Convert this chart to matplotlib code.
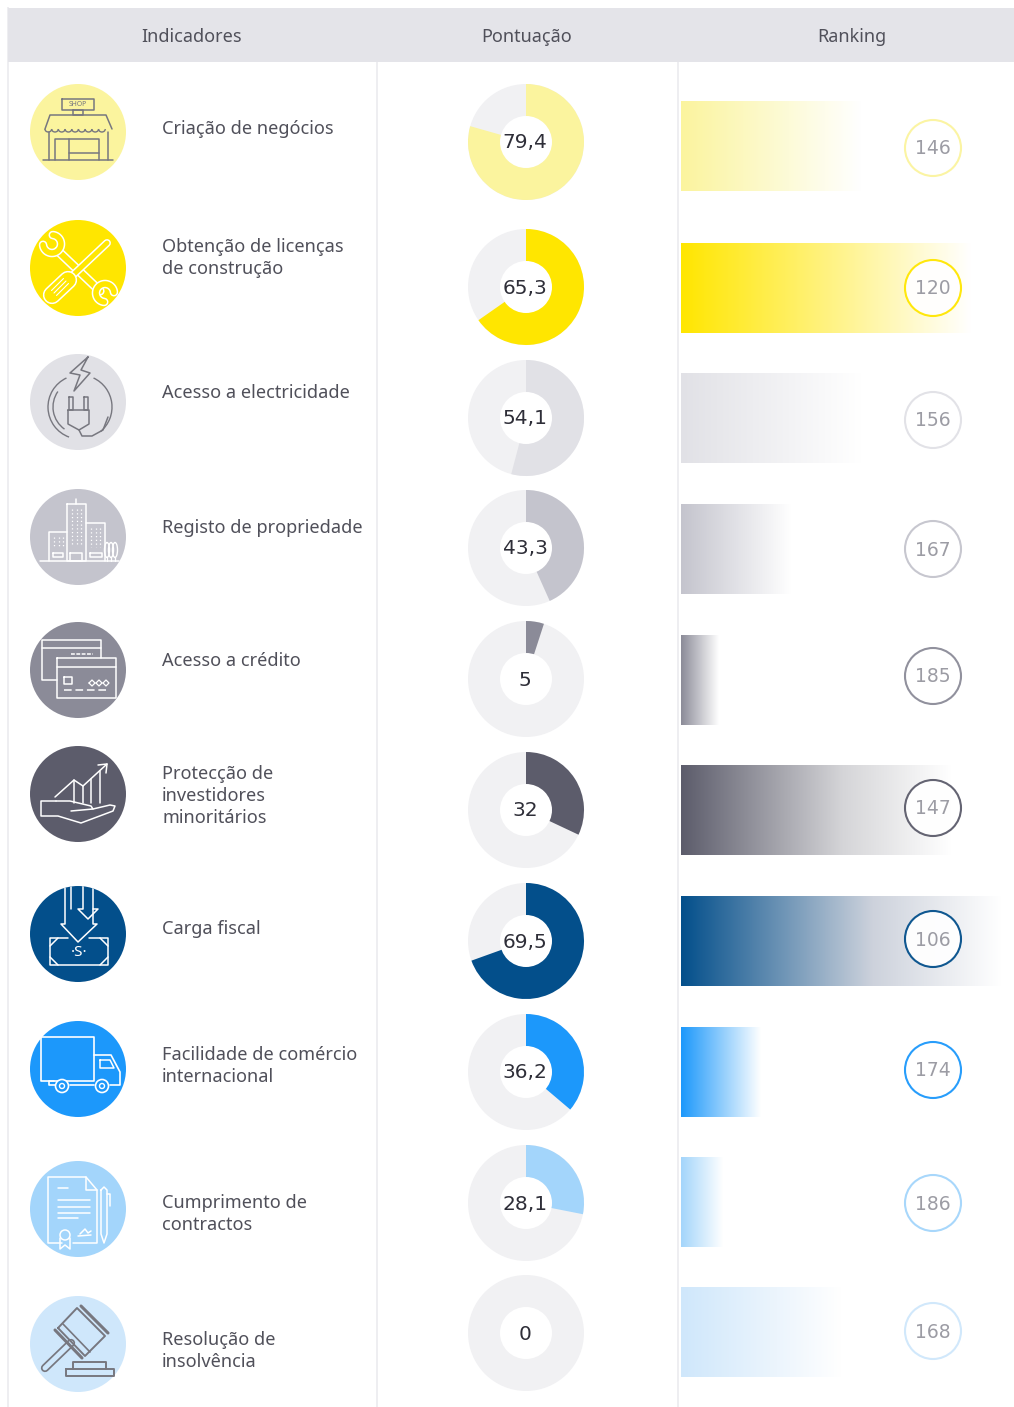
import numpy as np
import matplotlib
matplotlib.use('Agg')
import matplotlib.pyplot as plt
from matplotlib.patches import Circle, Wedge, Rectangle, Ellipse, Arc
from matplotlib.colors import to_rgb

headers = ['Indicadores', 'Pontuação', 'Ranking']
indicadores = ['Criação de negócios', 'Obtenção de licenças\nde construção', 'Acesso a electricidade',
               'Registo de propriedade', 'Acesso a crédito', 'Protecção de\ninvestidores\nminoritários',
               'Carga fiscal', 'Facilidade de comércio\ninternacional', 'Cumprimento de\ncontractos',
               'Resolução de\ninsolvência']
pontuacao = [79.4, 65.3, 54.1, 43.3, 5, 32, 69.5, 36.2, 28.1, 0]
ranking = [146, 120, 156, 167, 185, 147, 106, 174, 186, 168]
barra = [180, 290, 180, 110, 38, 270, 320, 80, 42, 160]

cores = ['#FBF49E', '#FFE600', '#E1E1E6', '#C4C4CD', '#8B8B98', '#5C5C6B', '#034F8B', '#1C98FB', '#A3D5FB', '#CFE7FB']
tracos = ['#77777F', 'white', '#77777F', 'white', 'white', 'white', 'white', 'white', 'white', '#77777F']
# colour of each bar at 60% of its length
meio_barra = ['#FDFBD8', '#FFF599', '#F3F3F5', '#E7E7EB', '#D1D1D6', '#D5D5D8', '#CDD2DC', '#A4D6FD', '#DAEEFD', '#ECF5FD']

# layout, in pixels of the 1014x1407 picture
y_icone = [132, 268, 402, 537, 670, 794, 934, 1069, 1209, 1344]
y_texto = [129, 258, 393, 528, 661, 796, 929, 1066, 1214, 1351]
y_donut = [142, 287, 418, 548, 679, 810, 941, 1072, 1203, 1333]
y_barra = [146, 288, 418, 549, 680, 810, 941, 1072, 1202, 1332]
y_rank = [148, 288, 420, 549, 676, 808, 939, 1070, 1203, 1331]

plt.rcParams['font.family'] = ['Noto Sans', 'DejaVu Sans']
fig = plt.figure(figsize=(10.14, 14.07), dpi=100)
ax = fig.add_axes([0, 0, 1, 1])

ax.add_patch(Rectangle((8, 8), 1006, 54, fc='#E4E4E9', ec='none', zorder=2))
for x in [8, 377, 678]:
    ax.plot([x, x], [62 if x != 8 else 8, 1407], color='#EEEEF1', lw=1.4, zorder=1)
for x, h in zip([192, 527, 852], headers):
    ax.text(x, 37, h, ha='center', va='center', fontsize=13, color='#50505A', zorder=3)


def pl(cx, cy, pts, c, lw=1.1, clip=None, closed=False):
    pts = list(pts)
    if closed:
        pts.append(pts[0])
    xs = [cx + p[0] for p in pts]
    ys = [cy + p[1] for p in pts]
    ln, = ax.plot(xs, ys, color=c, lw=lw, zorder=6, solid_capstyle='round', solid_joinstyle='round')
    if clip is not None:
        ln.set_clip_path(clip)
    return ln


def rc(cx, cy, x0, x1, y0, y1, c, lw=1.1):
    pl(cx, cy, [(x0, y0), (x1, y0), (x1, y1), (x0, y1)], c, lw, closed=True)


def shop(cx, cy, c, bg):
    rc(cx, cy, -16, 16, -33, -22, c)
    ax.text(cx, cy - 27, 'SHOP', ha='center', va='center', fontsize=5, color=c, zorder=6)
    rc(cx, cy, -5, 5, -22, -17, c)
    pl(cx, cy, [(-33, -3), (-28, -17), (28, -17), (34, -3)], c)
    xs = np.arange(-33, 34, 6.7)
    for a in xs[:-1]:
        ax.add_patch(Arc((cx + a + 3.3, cy - 3), 6.7, 6, theta1=0, theta2=180, color=c, lw=1, zorder=6))
    pl(cx, cy, [(-35, 28), (35, 28)], c)
    pl(cx, cy, [(-29, 0), (-29, 28)], c)
    pl(cx, cy, [(30, 0), (30, 28)], c)
    pl(cx, cy, [(-23, 28), (-23, 7), (21, 7), (21, 28)], c)
    pl(cx, cy, [(-9, 7), (-9, 28)], c)
    pl(cx, cy, [(-9, 21), (21, 21)], c)


def wrench(cx, cy, c, bg):
    def out(pts, w):
        pl(cx, cy, pts, c, w + 2.2)
        pl(cx, cy, pts, bg, w)
    # handle, then two open heads facing away from it
    out([(-20, -17), (22, 23)], 4.5)
    for a, b, mid in [(-26, -24, 225), (27, 25, 45)]:
        t = np.radians(np.linspace(mid + 50, mid + 310, 30))
        pts = np.column_stack([a + 9 * np.cos(t), b + 9 * np.sin(t)])
        out(pts, 4)
    # screwdriver on top
    out([(-6, 8), (29, -25)], 3.5)
    out([(-26, 27), (-10, 12)], 11)
    for d in [-2.5, 0, 2.5]:
        pl(cx, cy, [(-24 + d, 25 + d), (-12 + d, 13 + d)], c, 0.8)


def plug(cx, cy, c, bg):
    pl(cx, cy, [(10, -45), (-8, -29), (2, -27), (-4, -11), (12, -29), (3, -32)], c, closed=True)
    ax.add_patch(Arc((cx + 2, cy + 5), 64, 64, theta1=110, theta2=245, color=c, lw=1, zorder=5))
    ax.add_patch(Arc((cx + 2, cy + 5), 54, 54, theta1=125, theta2=215, color=c, lw=1, zorder=5))
    ax.add_patch(Arc((cx + 2, cy + 5), 64, 64, theta1=295, theta2=50, color=c, lw=1, zorder=5))
    rc(cx, cy, -9, -5, -5, 8, c)
    rc(cx, cy, 6, 10, -5, 8, c)
    pl(cx, cy, [(-10, 8), (11, 8), (11, 22), (1, 28), (-10, 22)], c, closed=True)
    pl(cx, cy, [(1, 28), (4, 34), (14, 34), (25, 28), (30, 15)], c)


def buildings(cx, cy, c, bg):
    rc(cx, cy, -11, 8, -33, 24, c)
    pl(cx, cy, [(-11, -5), (-29, -5), (-29, 24)], c)
    pl(cx, cy, [(8, -14), (27, -14), (27, 24)], c)
    pl(cx, cy, [(-38, 24), (41, 24)], c)
    pl(cx, cy, [(-2, -33), (-2, -38)], c)
    for x in [-6, -1, 3]:
        pl(cx, cy, [(x, -28), (x, 8)], c, 0.9).set_linestyle((0, (1, 2)))
    for x in [-24, -19, -15, 13, 18, 22]:
        pl(cx, cy, [(x, 0 if x < 0 else -9), (x, 10)], c, 0.9).set_linestyle((0, (1, 2)))
    rc(cx, cy, -8, 4, 16, 24, c)
    rc(cx, cy, -25, -15, 16, 20, c)
    rc(cx, cy, 12, 24, 16, 20, c)
    for x in [29, 33, 37]:
        ax.add_patch(Ellipse((cx + x, cy + 13), 5, 15, fc='none', ec=c, lw=1, zorder=6))
        pl(cx, cy, [(x, 20), (x, 24)], c, 0.9)


def cards(cx, cy, c, bg):
    pl(cx, cy, [(-21, 10), (-36, 10), (-36, -30), (23, -30), (23, -12)], c)
    pl(cx, cy, [(-36, -22), (23, -22)], c)
    pl(cx, cy, [(-7, -16), (15, -16)], c).set_linestyle((0, (2.5, 1)))
    rc(cx, cy, -21, 38, -12, 28, c)
    pl(cx, cy, [(-21, -3), (38, -3)], c)
    rc(cx, cy, -14, -6, 7, 14, c)
    for x in [14, 21, 28]:
        pl(cx, cy, [(x - 3, 13), (x, 10), (x + 3, 13), (x, 16)], c, 0.9, closed=True)
    pl(cx, cy, [(-14, 20), (30, 20)], c).set_linestyle((0, (5, 2.5)))


def hand(cx, cy, c, bg):
    pl(cx, cy, [(-22, 7), (-37, 7), (-37, 22), (-20, 22), (3, 29), (35, 17), (37, 12), (32, 11), (15, 15)], c)
    pl(cx, cy, [(-22, 7), (-8, 7), (13, 12), (15, 15), (-7, 17)], c)
    pl(cx, cy, [(-23, 3), (-4, -14), (5, -8), (29, -30)], c)
    pl(cx, cy, [(20, -29), (29, -30), (28, -21)], c)
    for x, t in [(-4, -14), (5, -8), (13, -15), (22, -23)]:
        pl(cx, cy, [(x, t), (x, 9)], c)


def tax(cx, cy, c, bg):
    clip = Circle((cx, cy), 48, transform=ax.transData)
    pl(cx, cy, [(-13, -48), (-13, -10), (-17, -10), (0, 8), (19, -10), (15, -10), (15, -25)], c, clip=clip)
    pl(cx, cy, [(-7, -48), (-7, -25)], c, clip=clip)
    pl(cx, cy, [(5, -48), (5, -25), (0, -25), (10, -15), (20, -25), (15, -25), (15, -48)], c, clip=clip)
    pl(cx, cy, [(-10, 4), (-28, 4), (-28, 31), (30, 31), (30, 4), (11, 4)], c)
    pl(cx, cy, [(-28, 12), (-20, 4)], c)
    pl(cx, cy, [(22, 4), (30, 12)], c)
    pl(cx, cy, [(-28, 23), (-20, 31)], c)
    pl(cx, cy, [(22, 31), (30, 23)], c)
    ax.text(cx + 1, cy + 19, '·S·', ha='center', va='center', fontsize=11, color=c, zorder=6)


def truck(cx, cy, c, bg):
    rc(cx, cy, -37, 16, -32, 12, c, 1.2)
    pl(cx, cy, [(16, -14), (33, -14), (42, 3), (42, 16), (32, 16)], c, 1.2)
    pl(cx, cy, [(22, -9), (32, -9), (36, -1), (22, -1), (22, -9)], c)
    pl(cx, cy, [(16, 16), (-8, 16)], c, 1.2)
    pl(cx, cy, [(-24, 12), (-29, 12), (-29, 16), (-23, 16)], c, 1.2)
    for x in [-16, 24]:
        ax.add_patch(Circle((cx + x, cy + 17), 6.5, fc=bg, ec=c, lw=1.2, zorder=7))
        ax.add_patch(Circle((cx + x, cy + 17), 2.5, fc=bg, ec=c, lw=1, zorder=7))


def doc(cx, cy, c, bg):
    pl(cx, cy, [(-16, 34), (-30, 34), (-30, -32), (8, -32), (19, -19), (19, 34), (-5, 34)], c)
    pl(cx, cy, [(8, -32), (8, -19), (19, -19)], c)
    pl(cx, cy, [(-20, -21), (-10, -21)], c)
    for y, x1 in zip([-9, -2, 4, 9], [12, 12, 12, 0]):
        pl(cx, cy, [(-20, y), (x1, y)], c)
    ax.add_patch(Circle((cx - 13, cy + 26), 5, fc='none', ec=c, lw=1.1, zorder=6))
    pl(cx, cy, [(-18, 29), (-18, 40), (-13, 36), (-8, 40), (-8, 29)], c)
    pl(cx, cy, [(2, 25), (7, 20), (10, 24), (13, 22)], c)
    pl(cx, cy, [(0, 27), (13, 26)], c)
    pl(cx, cy, [(23, -19), (26, -22), (29, -19), (29, 25), (26, 34), (23, 25), (23, -19)], c)
    pl(cx, cy, [(29, -15), (32, -15), (32, -3)], c)


def gavel(cx, cy, c, bg):
    pl(cx, cy, [(-33, 24), (-7, -1)], c, 6)
    pl(cx, cy, [(-33, 24), (-7, -1)], bg, 3.5)
    pl(cx, cy, [(-20, -16), (-1, -36), (27, -8), (7, 12)], c, closed=True, lw=1.4)
    pl(cx, cy, [(-15, -20), (12, 8)], c, 1.2)
    pl(cx, cy, [(3, -38), (30, -11)], c, 2.2)
    pl(cx, cy, [(-23, -14), (4, 14)], c, 2.2)
    rc(cx, cy, -12, 36, 25, 32, c, 1.4)
    pl(cx, cy, [(-5, 25), (-5, 18), (28, 18), (28, 25)], c, 1.4)


icones = [shop, wrench, plug, buildings, cards, hand, tax, truck, doc, gavel]

for i in range(len(indicadores)):
    cor = cores[i]
    # icon
    ax.add_patch(Circle((78, y_icone[i]), 48, fc=cor, ec='none', zorder=4))
    icones[i](78, y_icone[i], tracos[i], cor)

    # label
    ax.text(162, y_texto[i], indicadores[i], ha='left', va='center', fontsize=13.1, color='#50505A',
            linespacing=1.27, zorder=3)

    # donut, y axis points down so angles run clockwise from the top
    v = pontuacao[i]
    cy = y_donut[i]
    ax.add_patch(Circle((526, cy), 58, fc='#F1F1F3', ec='none', zorder=3))
    if v > 0:
        ax.add_patch(Wedge((526, cy), 58, -90, -90 + 3.6 * v, fc=cor, ec='none', zorder=4))
    ax.add_patch(Circle((526, cy), 26, fc='white', ec='none', zorder=5))
    txt = f'{v:g}'.replace('.', ',')
    ax.text(525, cy + 1, txt, ha='center', va='center', fontsize=14.5, color='#2E2E38', zorder=6,
            family='DejaVu Sans')

    # gradient bar, three colour stops blended on white
    t = np.linspace(0, 1, 512)
    paradas = np.array([to_rgb(cor), to_rgb(meio_barra[i]), (1, 1, 1)])
    cols = np.column_stack([np.interp(t, [0, 0.6, 1], paradas[:, k]) for k in range(3)])
    yb = y_barra[i]
    ax.imshow(cols[None, :, :], extent=[681, 681 + barra[i], yb + 45, yb - 45], aspect='auto', zorder=2,
              interpolation='bilinear')

    # rank circle
    ax.add_patch(Circle((933, y_rank[i]), 28, fc='white', ec=cor, lw=1.5, alpha=0.95, zorder=5))
    ax.text(933, y_rank[i] + 1, str(ranking[i]), ha='center', va='center', fontsize=13.5, color='#9C9CA4',
            zorder=6, family='DejaVu Sans')

ax.set_xlim(0, 1014)
ax.set_ylim(1407, 0)
ax.axis('off')
fig.savefig('out.png', dpi=100, facecolor='white')
